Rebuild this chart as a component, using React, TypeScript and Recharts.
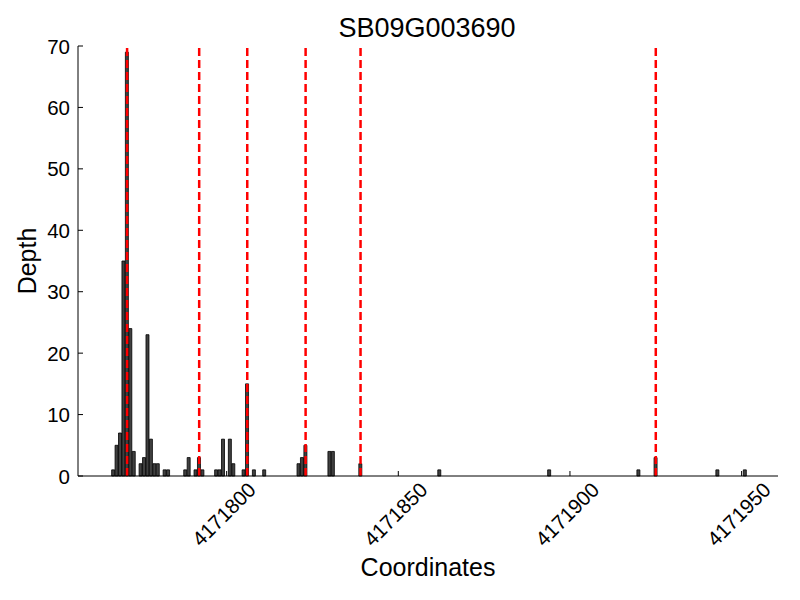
import { ComposedChart, Bar, XAxis, YAxis, ReferenceLine, Label } from "recharts";

// gene + read depth per position
const geneName = "SB09G003690";
const coords = [
  4171767, 4171768, 4171769, 4171770, 4171771, 4171772, 4171773,
  4171775, 4171776, 4171777, 4171778, 4171779, 4171780,
  4171782, 4171783,
  4171788, 4171789, 4171791, 4171792, 4171793,
  4171797, 4171798, 4171799, 4171801, 4171802,
  4171805, 4171806, 4171808, 4171811,
  4171821, 4171822, 4171823,
  4171830, 4171831,
  4171839,
  4171862, 4171894, 4171920, 4171925, 4171943, 4171951,
];
const depths = [
  1, 5, 7, 35, 69, 24, 4,
  2, 3, 23, 6, 2, 2,
  1, 1,
  1, 3, 1, 3, 1,
  1, 1, 6, 6, 2,
  1, 15, 1, 1,
  2, 3, 5,
  4, 4,
  2,
  1, 1, 1, 3, 1, 1,
];
// dashed markers
const markers = [4171771, 4171792, 4171806, 4171823, 4171839, 4171925];
const xTicks = [4171800, 4171850, 4171900, 4171950];
const yTicks = [0, 10, 20, 30, 40, 50, 60, 70];

const data = coords.map((c, i) => ({ coord: c, depth: depths[i] }));

const FONT = "'Liberation Sans', Arial, sans-serif";

function XTick({ x, y, payload }: any) {
  return (
    <g>
      <line x1={x} y1={y} x2={x} y2={y - 5} stroke="#000" />
      <text
        x={0}
        y={0}
        transform={`translate(${x - 3},${y + 38}) rotate(-45)`}
        textAnchor="middle"
        dominantBaseline="central"
        fontSize={20.5}
        fontFamily={FONT}
        fill="#000"
      >
        {payload.value}
      </text>
    </g>
  );
}

function YTick({ x, y, payload }: any) {
  return (
    <g>
      <line x1={x} y1={y} x2={x + 5} y2={y} stroke="#000" />
      <text
        x={x - 8}
        y={y}
        textAnchor="end"
        dominantBaseline="central"
        fontSize={20.5}
        fontFamily={FONT}
        fill="#000"
      >
        {payload.value}
      </text>
    </g>
  );
}

export default function App() {
  return (
    <div style={{ position: "absolute", left: 0, top: 0, width: 800, height: 600, background: "#fff" }}>
      <div
        style={{
          position: "absolute",
          left: 427,
          top: 28,
          transform: "translate(-50%, -50%)",
          fontFamily: FONT,
          fontSize: 27,
          whiteSpace: "nowrap",
        }}
      >
        {geneName}
      </div>
      <div
        style={{
          position: "absolute",
          left: 27,
          top: 261,
          transform: "translate(-50%, -50%) rotate(-90deg)",
          fontFamily: FONT,
          fontSize: 25,
          whiteSpace: "nowrap",
        }}
      >
        Depth
      </div>
      <ComposedChart
        width={800}
        height={600}
        data={data}
        margin={{ top: 46, right: 22, bottom: 0, left: 0 }}
        barCategoryGap={0}
        barGap={0}
      >
        <XAxis
          dataKey="coord"
          type="number"
          domain={[4171756.7, 4171960.6]}
          allowDataOverflow
          ticks={xTicks}
          height={124}
          tickSize={0}
          tickMargin={0}
          tickLine={false}
          axisLine={{ stroke: "#000" }}
          tick={<XTick />}
          interval={0}
        >
          <Label
            value="Coordinates"
            position="insideBottom"
            offset={24}
            style={{ fontSize: 25, fontFamily: FONT, fill: "#000" }}
          />
        </XAxis>
        <YAxis
          type="number"
          domain={[0, 70]}
          ticks={yTicks}
          width={78}
          tickSize={0}
          tickMargin={0}
          tickLine={false}
          axisLine={{ stroke: "#000" }}
          tick={<YTick />}
          interval={0}
        />
        <Bar dataKey="depth" fill="#404040" stroke="#000" strokeWidth={0.8} isAnimationActive={false} />
        {markers.map((m) => (
          <ReferenceLine key={m} x={m} stroke="#ff0000" strokeWidth={2.5} strokeDasharray="8 4" />
        ))}
      </ComposedChart>
    </div>
  );
}
